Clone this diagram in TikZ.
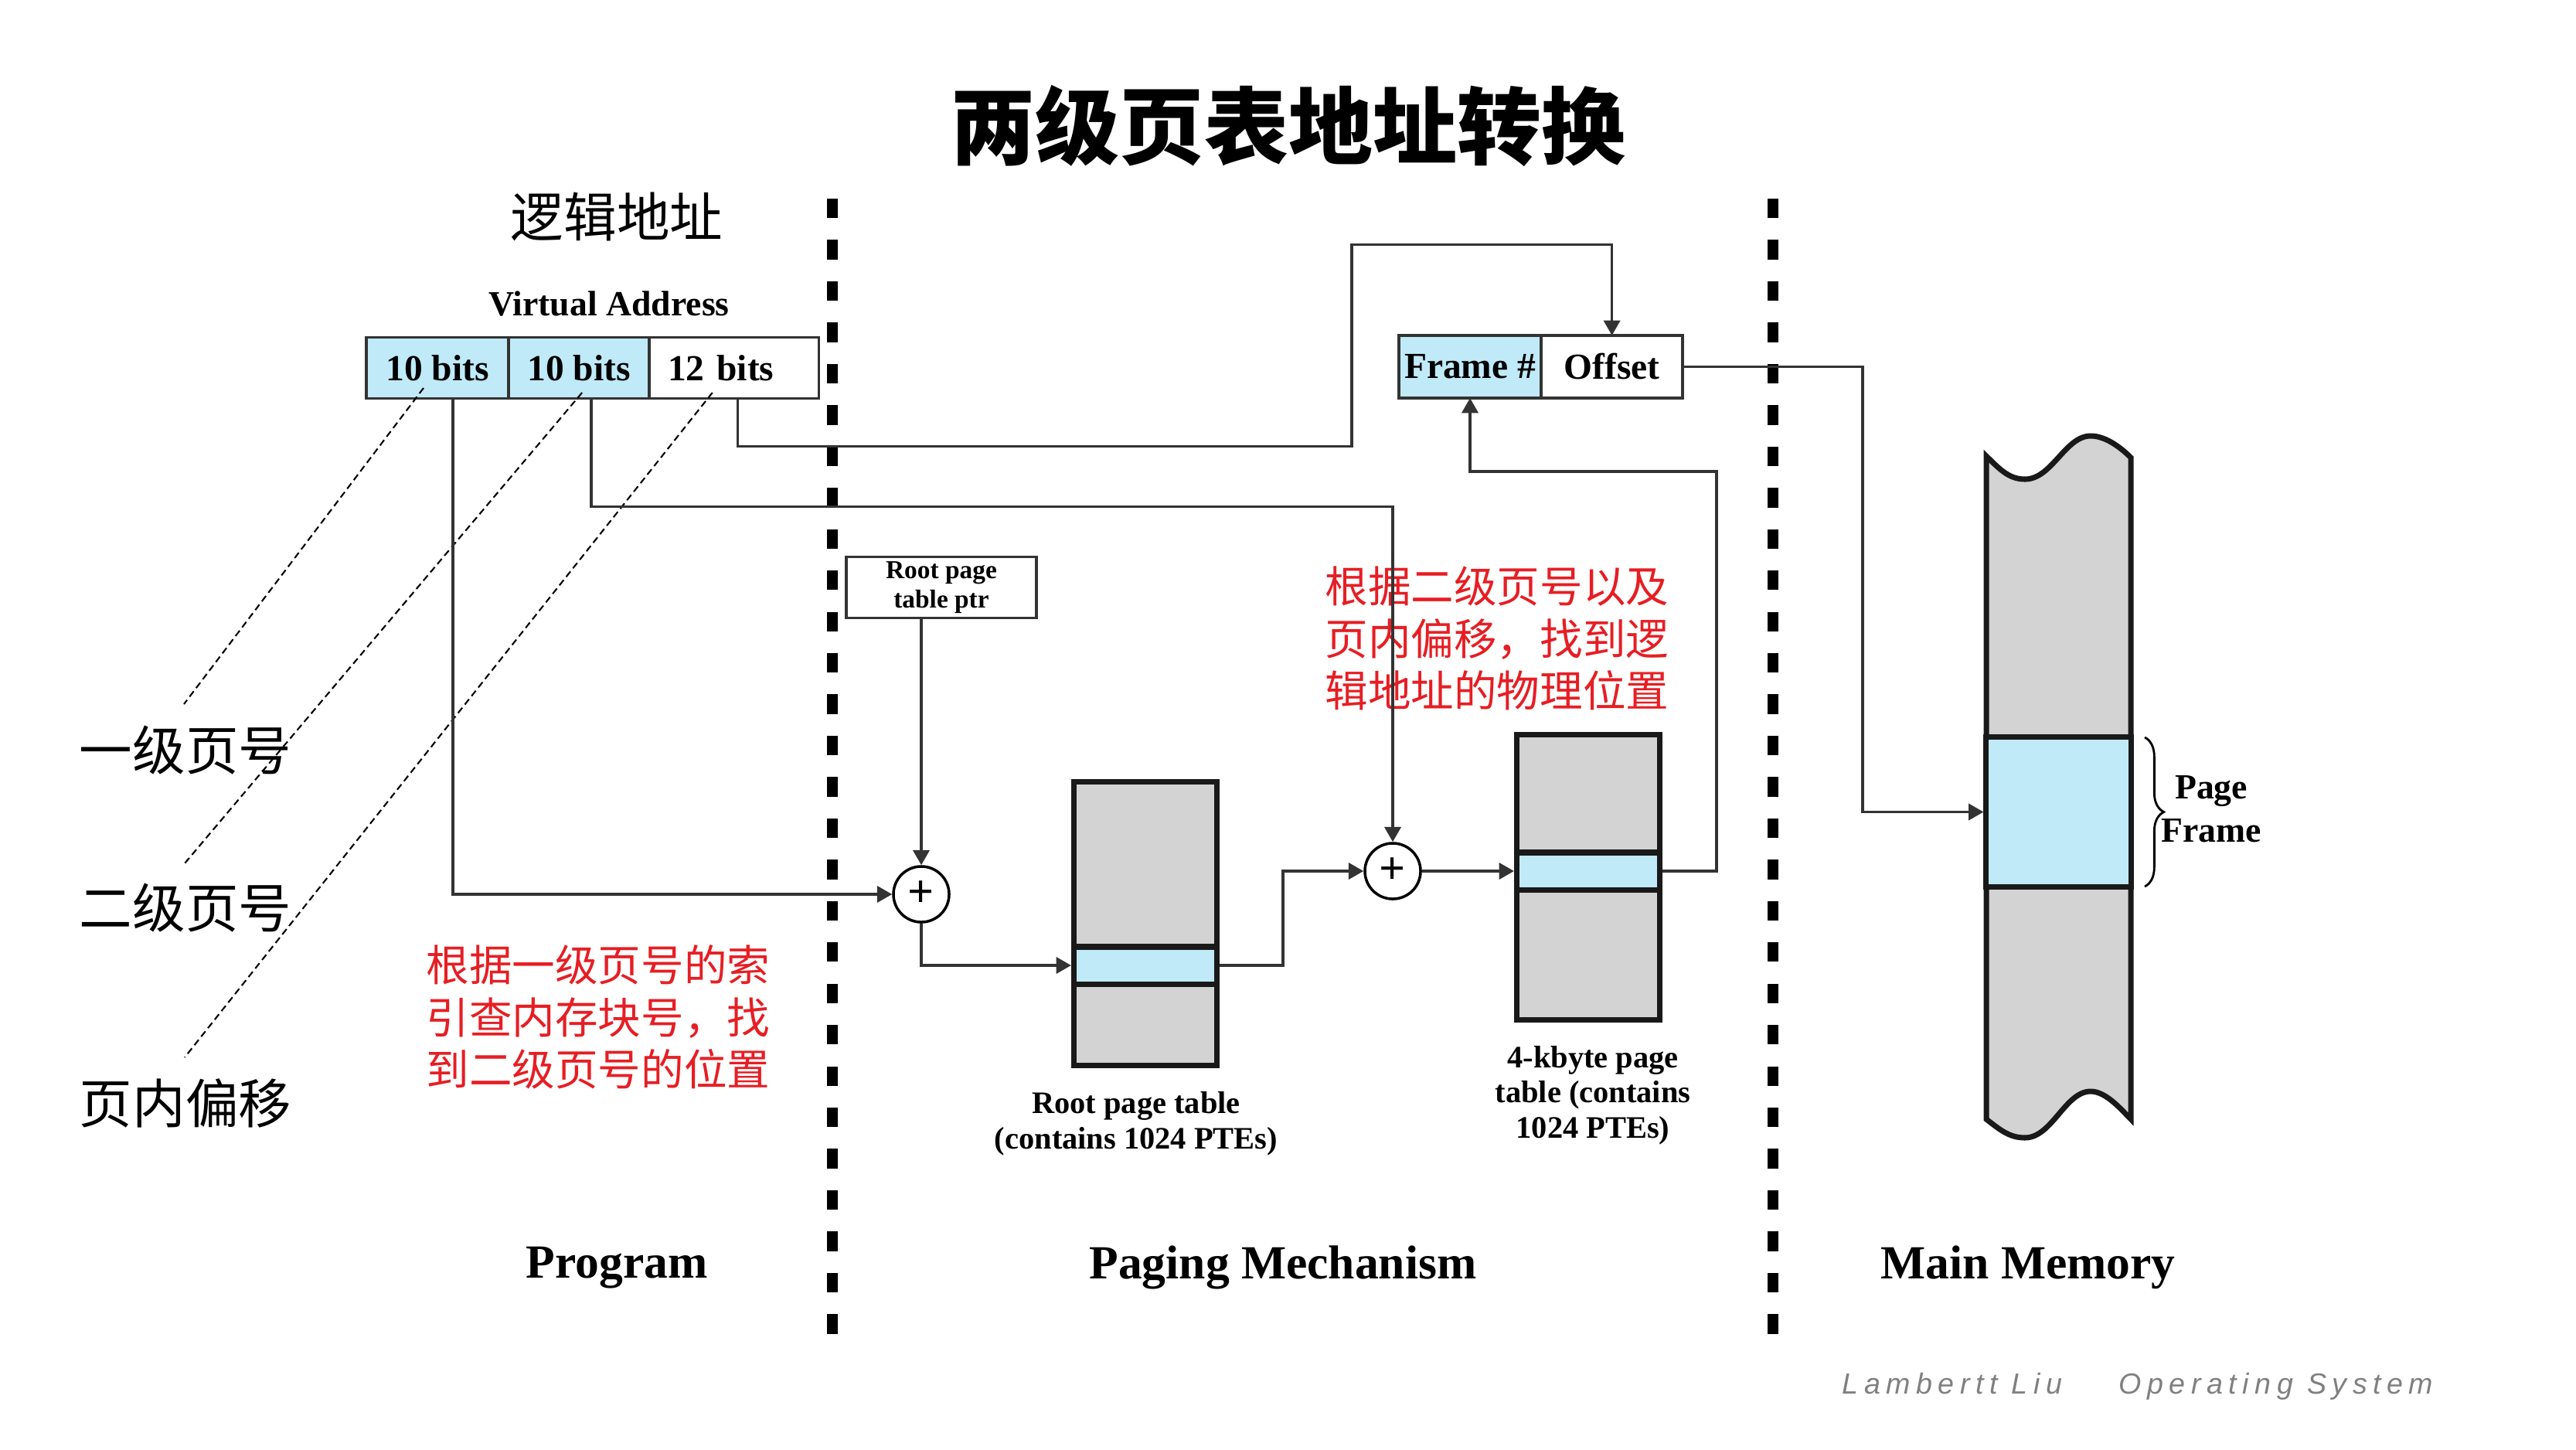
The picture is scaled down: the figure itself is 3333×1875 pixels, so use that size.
\documentclass[tikz,border=0pt]{standalone}
\usepackage{fontspec}
\setmainfont{Liberation Serif}
\newfontfamily\cjk{Noto Sans CJK SC}
\newfontfamily\footfont[LetterSpace=20]{Liberation Sans}
\usetikzlibrary{arrows.meta, positioning, decorations.pathreplacing}
\definecolor{cellblue}{RGB}{192,234,248}
\definecolor{tablegray}{RGB}{211,211,211}
\definecolor{notered}{RGB}{230,30,36}
\definecolor{footgray}{RGB}{128,128,128}

\begin{document}
\begin{tikzpicture}[x=0.01cm,y=-0.01cm,>={Triangle[length=5.5pt,width=6pt]}]
	\tikzstyle{cell}=[draw=black!80,line width=1pt,minimum height=0.79cm,inner sep=0pt,outer sep=0pt,font=\fontsize{13.5}{16}\selectfont\bfseries]
	\tikzstyle{table}=[draw=black!90,line width=2pt,fill=tablegray,minimum width=1.85cm,inner sep=0pt]
	\tikzstyle{entry}=[draw=black!90,line width=2pt,fill=cellblue,minimum width=1.85cm,minimum height=0.48cm,inner sep=0pt]
	\tikzstyle{adder}=[circle,draw,line width=1pt,minimum size=0.72cm,inner sep=0pt,font=\fontsize{17}{17}\selectfont\bfseries]
	\tikzstyle{conn}=[line width=1pt,draw=black!80]
	\tikzstyle{pointer}=[line width=0.6pt,dash pattern=on 2.5pt off 1.5pt]
	\tikzstyle{divider}=[line width=3.8pt,dash pattern=on 7.2pt off 8pt]
	\tikzstyle{cjklabel}=[font=\fontsize{19.5}{22}\selectfont\cjk]
	\tikzstyle{note}=[text=notered,align=left,inner sep=0pt,font=\fontsize{15.8}{19.2}\selectfont\cjk]
	\tikzstyle{caption}=[align=center,font=\fontsize{11.5}{13}\selectfont\bfseries]
	\tikzstyle{region}=[font=\fontsize{17.5}{20}\selectfont\bfseries]

	\useasboundingbox (0,0) rectangle (3333,1875);

	% titles
	\node[font=\fontsize{31}{36}\selectfont\cjk\bfseries] (title) at (1667,163) {两级页表地址转换};
	\node[cjklabel] (logic_addr) at (798,280) {逻辑地址};
	\node[font=\fontsize{13}{15}\selectfont\bfseries] (va_title) at (788,393) {Virtual Address};

	% virtual address
	\node[cell,fill=cellblue,minimum width=1.84cm] (va1) at (566,476) {10 bits};
	\node[cell,fill=cellblue,minimum width=1.82cm,right=0pt of va1] (va2) {10 bits};
	\node[cell,minimum width=2.19cm,text width=1.71cm,right=0pt of va2] (va3) {12 bits};

	% physical address
	\node[cell,fill=cellblue,minimum width=1.84cm,minimum height=0.81cm] (frame_no) at (1902,474.5) {Frame \#};
	\node[cell,minimum width=1.83cm,minimum height=0.81cm,right=0pt of frame_no] (offset) {Offset};

	\node[draw=black!80,line width=1pt,minimum width=2.46cm,minimum height=0.79cm,align=center,inner sep=0pt,font=\fontsize{9.5}{10.8}\selectfont\bfseries] (root_ptr) at (1218,760) {Root page\\table ptr};

	\node[adder] (sum1) at (1192,1157) {+};
	\node[adder] (sum2) at (1802,1127) {+};

	% page tables
	\node[table,minimum height=3.66cm] (root_table) at (1482,1195) {};
	\node[entry] (root_entry) at (1482,1249) {};
	\node[table,minimum height=3.68cm] (page_table) at (2055,1135) {};
	\node[entry] (page_entry) at (2055,1127) {};
	\node[caption] (root_caption) at (1470,1454) {Root page table\\(contains 1024 PTEs)};
	\node[caption] (page_caption) at (2061,1417) {4-kbyte page\\table (contains\\1024 PTEs)};

	% main memory
	\draw[line width=2pt,draw=black!90,fill=tablegray] (2570,590)
		.. controls (2588,608) and (2600,620) .. (2620,620)
		.. controls (2655,620) and (2672,564) .. (2705,564)
		.. controls (2725,564) and (2745,580) .. (2757,592)
		-- (2757,1448)
		.. controls (2745,1436) and (2725,1412) .. (2705,1412)
		.. controls (2672,1412) and (2655,1472) .. (2620,1472)
		.. controls (2600,1472) and (2588,1462) .. (2570,1448) -- cycle;
	\node[entry,minimum width=1.87cm,minimum height=1.93cm] (page_frame) at (2663.5,1050.5) {};
	\draw[line width=0.8pt,decorate,decoration={brace,amplitude=7pt}] (2775,954) -- (2775,1147);
	\node[align=center,font=\fontsize{13}{16}\selectfont\bfseries] (frame_label) at (2861,1047) {Page\\Frame};

	% dividers
	\draw[divider] (1077,257) -- (1077,1728);
	\draw[divider] (2294,257) -- (2294,1728);

	% left labels
	\node[cjklabel] (lvl1) at (240,970) {一级页号};
	\node[cjklabel] (lvl2) at (240,1174) {二级页号};
	\node[cjklabel] (lvl_off) at (240,1427) {页内偏移};
	\draw[pointer] ([shift={(-18,26)}]va1.center) -- ([shift={(-2,-59)}]lvl1.center);
	\draw[pointer] ([shift={(4,32)}]va2.center) -- ([shift={(-1,-57)}]lvl2.center);
	\draw[pointer] ([shift={(-28,32)}]va3.center) -- ([shift={(-1,-59)}]lvl_off.center);

	% notes
	\node[note,anchor=west] (note_root) at (551,1316) {根据一级页号的索\\引查内存块号，找\\到二级页号的位置};
	\node[note,anchor=west] (note_frame) at (1714,826) {根据二级页号以及\\页内偏移，找到逻\\辑地址的物理位置};

	% connectors
	\draw[conn,->] ([xshift=0.2cm]va1.south) |- (sum1);
	\draw[conn,->] ([xshift=0.16cm]va2.south) -- ++(0,140) -| (sum2);
	\draw[conn,->] ([xshift=0.05cm]va3.south) -- ++(0,62) -| ++(794,-261) -| (offset.north);
	\draw[conn,->] (root_ptr.south -| sum1) -- (sum1);
	\draw[conn,->] (sum1) |- (root_entry.west);
	\draw[conn,->] (root_entry.east) -- ++(82,0) |- (sum2);
	\draw[conn,->] (sum2) -- (page_entry.west);
	\draw[conn,->] (page_entry.east) -| ++(70,-517) -| (frame_no.south);
	\draw[conn,->] (offset.east) -- ++(233,0) |- (page_frame.west);

	% region names
	\node[region] (program) at (798,1640) {Program};
	\node[region] (paging) at (1660,1640) {Paging Mechanism};
	\node[region] (memory) at (2624,1640) {Main Memory};

	\node[text=footgray,font=\fontsize{10.7}{12}\selectfont\footfont\itshape] (footer) at (2766,1794) {Lambertt Liu\quad\ \ Operating System};
\end{tikzpicture}
\end{document}
